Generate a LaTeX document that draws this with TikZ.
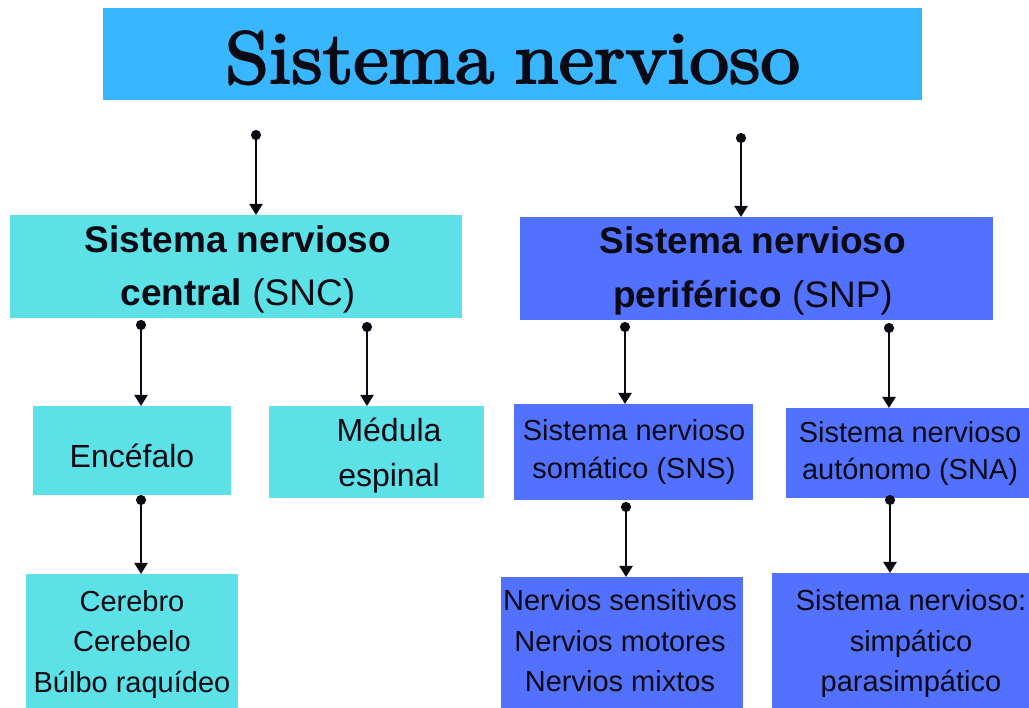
\documentclass[tikz,border=0pt]{standalone}
\usepackage{fontspec}
\newfontfamily\arial{Liberation Sans}
\usetikzlibrary{arrows.meta}
\definecolor{ttlcol}{HTML}{38B6FF}
\definecolor{cyanbox}{HTML}{5CE1E6}
\definecolor{bluebox}{HTML}{5271FF}
\definecolor{ink}{HTML}{0A0A14}
\begin{document}
\begin{tikzpicture}[x=1pt,y=-1pt,
  box/.style={rectangle, inner sep=0pt, outer sep=0pt, draw=none, fill=#1},
  lbl/.style={anchor=base, inner sep=0pt, text=ink},
  big/.style={lbl, font=\arial\fontsize{37}{40}\selectfont},
  mid/.style={lbl, font=\arial\fontsize{32}{36}\selectfont},
  small/.style={lbl, font=\arial\fontsize{29}{33}\selectfont},
  conn/.style={line width=2.2pt, ink, {Circle[length=10pt,width=10pt]}-{Triangle[length=11pt,width=13pt]}}
]
\useasboundingbox (0,0) rectangle (1029,708);
\fill[white] (0,0) rectangle (1029,708);

% boxes
\node[box=ttlcol, minimum width=819pt, minimum height=92pt] (title) at (512.5,54) {};
\node[box=cyanbox, minimum width=452pt, minimum height=103pt] (snc) at (236,266.5) {};
\node[box=bluebox, minimum width=473pt, minimum height=103pt] (snp) at (756.5,268.5) {};
\node[box=cyanbox, minimum width=198pt, minimum height=89pt] (enc) at (132,450.5) {};
\node[box=cyanbox, minimum width=215pt, minimum height=92pt] (med) at (376.5,452) {};
\node[box=bluebox, minimum width=239pt, minimum height=96pt] (sns) at (633.5,452) {};
\node[box=bluebox, minimum width=243pt, minimum height=90pt] (sna) at (907.5,453) {};
\node[box=cyanbox, minimum width=212pt, minimum height=134pt] (cer) at (132,641) {};
\node[box=bluebox, minimum width=242pt, minimum height=131pt] (ner) at (622,642.5) {};
\node[box=bluebox, minimum width=257pt, minimum height=135pt] (sim) at (900.5,640.5) {};

% title
\node[lbl] (ttltext) at (512.5,83) {\resizebox{575pt}{52pt}{\special{pdf:literal direct 2 Tr 0.25 w}Sistema\kern-0.08em\ nervioso\special{pdf:literal direct 0 Tr}}};

% texts
\node[big] (snc1) at (238,253) {\textbf{Sistema nervioso}};
\node[big] (snc2) at (238,306) {\textbf{central} (SNC)};
\node[big] (snp1) at (753,254) {\textbf{Sistema nervioso}};
\node[big] (snp2) at (753,308) {\textbf{periférico} (SNP)};
\node[mid] (enc1) at (132,468) {Encéfalo};
\node[mid] (med1) at (389,442) {Médula};
\node[mid] (med2) at (389,487) {espinal};
\node[small] (sns1) at (634,441) {Sistema nervioso};
\node[small] (sns2) at (634,479) {somático (SNS)};
\node[small] (sna1) at (910,443) {Sistema nervioso};
\node[small] (sna2) at (910,480) {autónomo (SNA)};
\node[small] (cer1) at (132,612) {Cerebro};
\node[small] (cer2) at (132,651) {Cerebelo};
\node[small] (cer3) at (132,692) {Búlbo raquídeo};
\node[small] (ner1) at (620,610) {Nervios sensitivos};
\node[small] (ner2) at (620,651) {Nervios motores};
\node[small] (ner3) at (620,691) {Nervios mixtos};
\node[small] (sim1) at (911,610) {Sistema nervioso:};
\node[small] (sim2) at (911,651) {simpático};
\node[small] (sim3) at (911,691) {parasimpático};

% connector start points
\coordinate (s1) at (256,130);
\coordinate (s2) at (741,133);
\coordinate (s3) at (141,320);
\coordinate (s4) at (367,322);
\coordinate (s5) at (625,322);
\coordinate (s6) at (889,323);
\coordinate (s7) at (141,495);
\coordinate (s8) at (626,502);
\coordinate (s9) at (890,495);

\draw[conn] (s1) -- (s1 |- snc.north);
\draw[conn] (s2) -- (s2 |- snp.north);
\draw[conn] (s3) -- (s3 |- enc.north);
\draw[conn] (s4) -- (s4 |- med.north);
\draw[conn] (s5) -- (s5 |- sns.north);
\draw[conn] (s6) -- (s6 |- sna.north);
\draw[conn] (s7) -- (s7 |- cer.north);
\draw[conn] (s8) -- (s8 |- ner.north);
\draw[conn] (s9) -- (s9 |- sim.north);
\end{tikzpicture}
\end{document}
